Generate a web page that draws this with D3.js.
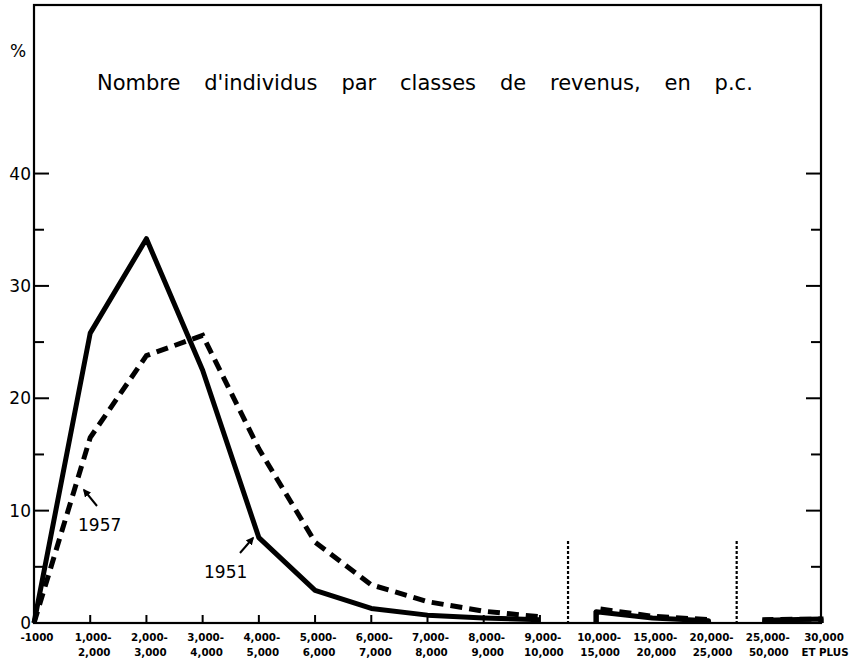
<!DOCTYPE html>
<html>
<head>
<meta charset="utf-8">
<script src="https://cdnjs.cloudflare.com/ajax/libs/d3/7.8.5/d3.min.js"></script>
<style>
  body { margin: 0; background: #fff; }
  svg { font-family: "DejaVu Sans", sans-serif; }
</style>
</head>
<body>
<div id="chart"></div>
<script>
// income classes (two label lines each)
var classTop = ["-1000", "1,000-", "2,000-", "3,000-", "4,000-", "5,000-", "6,000-", "7,000-", "8,000-", "9,000-",
                "10,000-", "15,000-", "20,000-", "25,000-", "30,000"];
var classBottom = ["", "2,000", "3,000", "4,000", "5,000", "6,000", "7,000", "8,000", "9,000", "10,000",
                   "15,000", "20,000", "25,000", "50,000", "ET PLUS"];

// % of individuals per class
var values1951 = [0, 25.8, 34.2, 22.5, 7.6, 2.9, 1.3, 0.7, 0.45, 0.3, 1.0, 0.45, 0.2, 0.25, 0.35];
var values1957 = [0, 16.5, 23.8, 25.6, 15.5, 7.2, 3.4, 1.9, 1.05, 0.55, 1.3, 0.6, 0.3, 0.3, 0.35];

// the scale is broken between these groups of classes
var segments = [[0, 9], [10, 12], [13, 14]];
var breaks = [9.5, 12.5];
var breakHeight = 7.3;

var yTicks = [5, 10, 15, 20, 25, 30, 35, 40];
var yLabels = [0, 10, 20, 30, 40];

var width = 867, height = 663;

var svg = d3.select("#chart").append("svg")
    .attr("width", width)
    .attr("height", height);

var x = d3.scaleLinear().domain([0, 14]).range([34, 821]);
var y = d3.scaleLinear().domain([0, 55]).range([623, 5]);

// frame
svg.append("rect")
    .attr("x", x(0)).attr("y", y(55))
    .attr("width", x(14) - x(0)).attr("height", y(0) - y(55))
    .attr("fill", "none").attr("stroke", "#000").attr("stroke-width", 2.2);

// left and right ticks
yTicks.forEach(function(t){
    var len = (t % 10 == 0) ? 15 : 10;
    svg.append("line")
        .attr("x1", x(0)).attr("x2", x(0) + len)
        .attr("y1", y(t)).attr("y2", y(t))
        .attr("stroke", "#000").attr("stroke-width", 2);
    svg.append("line")
        .attr("x1", x(14)).attr("x2", x(14) - len)
        .attr("y1", y(t)).attr("y2", y(t))
        .attr("stroke", "#000").attr("stroke-width", 2);
});

svg.selectAll(".ylab")
    .data(yLabels)
    .enter().append("text")
    .attr("class", "ylab")
    .attr("x", 31)
    .attr("y", function(d){ return y(d) + 6; })
    .attr("text-anchor", "end")
    .attr("font-size", 17)
    .text(function(d){ return d; });

svg.append("text")
    .attr("x", 10).attr("y", 57)
    .attr("font-size", 17)
    .text("%");

// bottom ticks
d3.range(1, 10).forEach(function(i){
    svg.append("line")
        .attr("x1", x(i)).attr("x2", x(i))
        .attr("y1", y(0)).attr("y2", y(0) - 8)
        .attr("stroke", "#000").attr("stroke-width", 2);
});

// bottom labels
var labs = svg.selectAll(".xlab")
    .data(classTop)
    .enter().append("text")
    .attr("class", "xlab")
    .attr("text-anchor", "middle")
    .attr("font-size", 10.3)
    .attr("font-weight", "bold");
labs.append("tspan")
    .attr("x", function(d, i){ return x(i) + 3; })
    .attr("y", 641)
    .text(function(d){ return d; });
labs.append("tspan")
    .attr("x", function(d, i){ return x(i) + 4; })
    .attr("y", 656)
    .text(function(d, i){ return classBottom[i]; });

// scale breaks
breaks.forEach(function(b){
    svg.append("line")
        .attr("x1", x(b)).attr("x2", x(b))
        .attr("y1", y(breakHeight)).attr("y2", y(0))
        .attr("stroke", "#000").attr("stroke-width", 2.2)
        .attr("stroke-dasharray", "3,2");
});

// curves
var line = d3.line()
    .x(function(d){ return x(d.i); })
    .y(function(d){ return y(d.v); });

function segPoints(values, s){
    var pts = [];
    for(var i = s[0]; i <= s[1]; i++){
        pts.push({i: i, v: values[i]});
    }
    if(s[0] > 0){
        pts.unshift({i: s[0], v: 0});
        pts.push({i: s[1], v: 0});
    }
    return pts;
}

segments.forEach(function(s){
    svg.append("path")
        .attr("d", line(segPoints(values1951, s)))
        .attr("fill", "none").attr("stroke", "#000")
        .attr("stroke-width", 5).attr("stroke-linejoin", "round");
    svg.append("path")
        .attr("d", line(segPoints(values1957, s)))
        .attr("fill", "none").attr("stroke", "#000")
        .attr("stroke-width", 5).attr("stroke-dasharray", "12,7");
});

// title, words spread out to the width of the original
var title = svg.append("text")
    .attr("x", 97).attr("y", 90)
    .attr("font-size", 21)
    .text("Nombre d'individus par classes de revenus, en p.c.");
var natural = title.node().getComputedTextLength();
title.attr("word-spacing", Math.max(0, (673 - natural) / 8));

// annotations
svg.append("defs").append("marker")
    .attr("id", "head")
    .attr("viewBox", "0 0 10 10")
    .attr("refX", 8).attr("refY", 5)
    .attr("markerWidth", 4).attr("markerHeight", 4)
    .attr("orient", "auto")
    .append("path").attr("d", "M0,0L10,5L0,10z").attr("fill", "#000");

svg.append("line")
    .attr("x1", 97).attr("y1", 506).attr("x2", 84).attr("y2", 490)
    .attr("stroke", "#000").attr("stroke-width", 2)
    .attr("marker-end", "url(#head)");
svg.append("text")
    .attr("x", 78).attr("y", 531)
    .attr("font-size", 17)
    .text("1957");

svg.append("line")
    .attr("x1", 240).attr("y1", 553).attr("x2", 253).attr("y2", 538)
    .attr("stroke", "#000").attr("stroke-width", 2)
    .attr("marker-end", "url(#head)");
svg.append("text")
    .attr("x", 204).attr("y", 578)
    .attr("font-size", 17)
    .text("1951");
</script>
</body>
</html>
